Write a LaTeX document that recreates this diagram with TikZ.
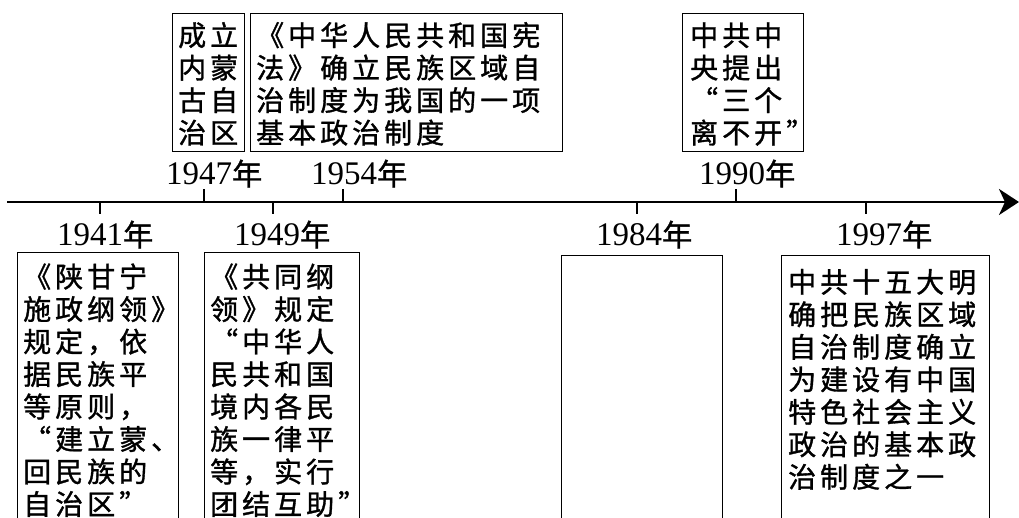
\documentclass[tikz,border=0pt]{standalone}
\usepackage{fontspec}
\setmainfont{Liberation Serif}
\newfontfamily\cjk[LetterSpace=14.3,RawFeature=+fwid,FakeBold=1.2]{Noto Sans CJK SC}
\newfontfamily\cjkn[FakeBold=1.2]{Noto Sans CJK SC}
\usetikzlibrary{arrows.meta}
\begin{document}
\begin{tikzpicture}[x=1pt,y=-1pt,
  frame/.style={draw, line width=1.4pt, inner sep=0, anchor=north west},
  axisline/.style={line width=2.8pt},
  tickmark/.style={line width=2pt},
  body/.style={anchor=north west, inner sep=0, align=left, font=\cjk\fontsize{28}{32.5}\selectfont},
  yearlbl/.style={anchor=base west, inner sep=0, font=\fontsize{33}{33}\selectfont}]
\useasboundingbox (0,0) rectangle (1019,518);

% boxes
\node[frame, minimum width=72pt, minimum height=138pt] (b1947) at (172,13) {};
\node[frame, minimum width=312pt, minimum height=138pt] (b1954) at (250,13) {};
\node[frame, minimum width=121pt, minimum height=138pt] (b1990) at (682,13) {};
\node[frame, minimum width=161pt, minimum height=290pt] (b1941) at (17,252) {};
\node[frame, minimum width=155pt, minimum height=290pt] (b1949) at (204,252) {};
\node[frame, minimum width=161pt, minimum height=290pt] (b1984) at (561,255) {};
\node[frame, minimum width=208pt, minimum height=290pt] (b1997) at (781,255) {};

% axis
\coordinate (axstart) at (7,202);
\coordinate (axend) at (1019,202);
\draw[axisline,-{Stealth[length=20pt,width=26pt,inset=6pt]}] (axstart) -- (axend);

% ticks
\draw[tickmark] (204,202) -- (204,189);
\draw[tickmark] (343,202) -- (343,189);
\draw[tickmark] (736,202) -- (736,189);
\draw[tickmark] (100,202) -- (100,214);
\draw[tickmark] (273,202) -- (273,214);
\draw[tickmark] (637,202) -- (637,214);
\draw[tickmark] (866,202) -- (866,214);

% year labels
\node[yearlbl] (y1947) at (166,185) {1947{\cjkn\fontsize{30}{30}\selectfont 年}};
\node[yearlbl] (y1954) at (311,185) {1954{\cjkn\fontsize{30}{30}\selectfont 年}};
\node[yearlbl] (y1990) at (699,185) {1990{\cjkn\fontsize{30}{30}\selectfont 年}};
\node[yearlbl] (y1941) at (57,246) {1941{\cjkn\fontsize{30}{30}\selectfont 年}};
\node[yearlbl] (y1949) at (234,246) {1949{\cjkn\fontsize{30}{30}\selectfont 年}};
\node[yearlbl] (y1984) at (596,246) {1984{\cjkn\fontsize{30}{30}\selectfont 年}};
\node[yearlbl] (y1997) at (836,246) {1997{\cjkn\fontsize{30}{30}\selectfont 年}};

% texts
\node[body] (t1947) at (178,21.6) {\rule{0pt}{24pt}成立\\内蒙\\古自\\治区};
\node[body] (t1954) at (256,21.6) {\rule{0pt}{24pt}《中华人民共和国宪\\法》确立民族区域自\\治制度为我国的一项\\基本政治制度};
\node[body] (t1990) at (690,21.6) {\rule{0pt}{24pt}中共中\\央提出\\“三个\\离不开”};
\node[body] (t1941) at (23,263) {\rule{0pt}{24pt}《陕甘宁\\施政纲领》\\规定，依\\据民族平\\等原则，\\“建立蒙、\\回民族的\\自治区”};
\node[body] (t1949) at (210,263) {\rule{0pt}{24pt}《共同纲\\领》规定\\“中华人\\民共和国\\境内各民\\族一律平\\等，实行\\团结互助”};
\node[body] (t1997) at (788,268.3) {\rule{0pt}{24pt}中共十五大明\\确把民族区域\\自治制度确立\\为建设有中国\\特色社会主义\\政治的基本政\\治制度之一};
\end{tikzpicture}
\end{document}
